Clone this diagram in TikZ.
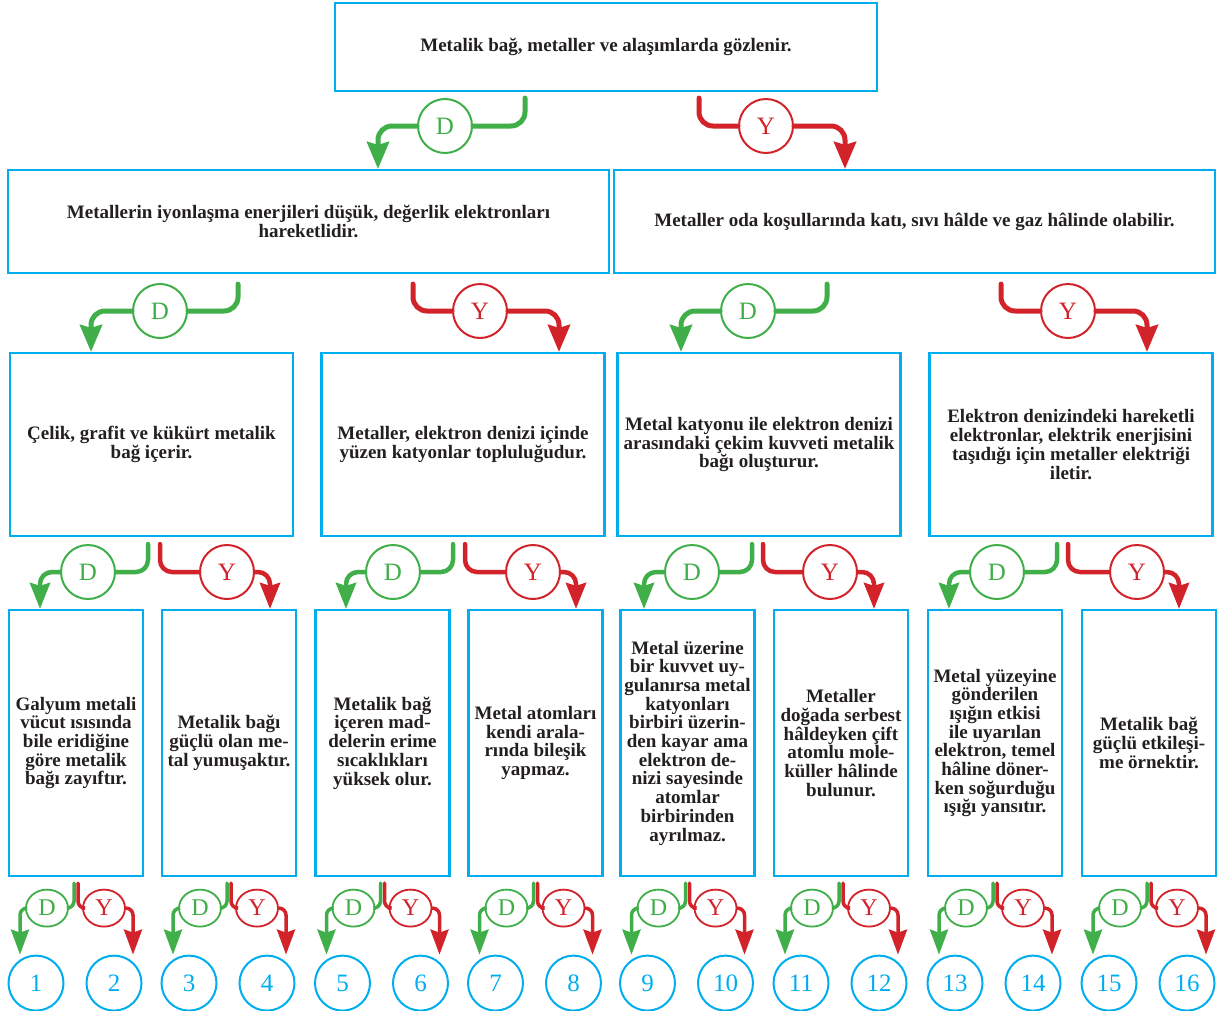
\documentclass[tikz,border=0pt]{standalone}
\usepackage{fontspec}
\setmainfont{Liberation Serif}
\usetikzlibrary{arrows.meta,shapes.geometric,calc}

\definecolor{dgreen}{RGB}{64,174,73}
\definecolor{yred}{RGB}{210,35,42}
\definecolor{boxblue}{RGB}{0,174,239}
\definecolor{txt}{RGB}{35,31,32}

\tikzset{
  box/.style={rectangle,draw=boxblue,line width=2.2pt,inner sep=0pt,align=center,
    text=txt,font=\bfseries\fontsize{19}{18.7}\selectfont},
  leaf/.style={box,minimum width=134pt,minimum height=266pt},
  mid/.style={box,minimum width=283pt,minimum height=183pt},
  ans/.style={circle,draw,fill=white,line width=2pt,minimum size=54pt,inner sep=0pt,
    font=\fontsize{25}{25}\selectfont},
  dans/.style={ans,draw=dgreen,text=dgreen},
  yans/.style={ans,draw=yred,text=yred},
  small/.style={ellipse,draw,fill=white,line width=1.8pt,minimum width=42pt,
    minimum height=37pt,inner sep=0pt,font=\fontsize{24}{24}\selectfont},
  dsmall/.style={small,draw=dgreen,text=dgreen},
  ysmall/.style={small,draw=yred,text=yred},
  num/.style={circle,draw=boxblue,line width=2pt,minimum size=55pt,inner sep=0pt,
    text=boxblue,font=\fontsize{25}{25}\selectfont},
  gline/.style={draw=dgreen,line width=5pt,line cap=round,rounded corners=14pt},
  rline/.style={draw=yred,line width=5pt,line cap=round,rounded corners=14pt},
  thin/.style={line width=4.5pt,rounded corners=12pt},
  low/.style={line width=3.5pt,rounded corners=7pt},
  tip/.style={-{Stealth[length=27pt,width=22pt,inset=3pt]}},
  midtip/.style={-{Stealth[length=26pt,width=20pt,inset=3pt]}},
  lowtip/.style={-{Stealth[length=25pt,width=18pt,inset=3pt]}}
}

\begin{document}
\begin{tikzpicture}[x=1pt,y=-1pt]
\useasboundingbox (0,0) rectangle (1221,1010);

% statements
\node (top) [box,minimum width=542pt,minimum height=88pt] at (606,47)
  {Metalik bağ, metaller ve alaşımlarda gözlenir.};
\node (met1) [box,minimum width=601pt,minimum height=103pt] at (308.5,221.5)
  {Metallerin iyonlaşma enerjileri düşük, değerlik elektronları\\hareketlidir.};
\node (met2) [box,minimum width=601pt,minimum height=103pt] at (914.5,221.5)
  {Metaller oda koşullarında katı, sıvı hâlde ve gaz hâlinde olabilir.};

\node (c1) [mid] at (151.5,444.5) {Çelik, grafit ve kükürt metalik\\bağ içerir.};
\node (c2) [mid] at (463,444.5) {Metaller, elektron denizi içinde\\yüzen katyonlar topluluğudur.};
\node (c3) [mid] at (759,444.5) {Metal katyonu ile elektron denizi\\arasındaki çekim kuvveti metalik\\bağı oluşturur.};
\node (c4) [mid] at (1071,444.5) {Elektron denizindeki hareketli\\elektronlar, elektrik enerjisini\\taşıdığı için metaller elektriği\\iletir.};

\node (p1) [leaf] at (76,743) {Galyum metali\\vücut ısısında\\bile eridiğine\\göre metalik\\bağı zayıftır.};
\node (p2) [leaf] at (229,743) {Metalik bağı\\güçlü olan me-\\tal yumuşaktır.};
\node (p3) [leaf] at (382.5,743) {Metalik bağ\\içeren mad-\\delerin erime\\sıcaklıkları\\yüksek olur.};
\node (p4) [leaf] at (535.5,743) {Metal atomları\\kendi arala-\\rında bileşik\\yapmaz.};
\node (p5) [leaf] at (687.5,743) {Metal üzerine\\bir kuvvet uy-\\gulanırsa metal\\katyonları\\birbiri üzerin-\\den kayar ama\\elektron de-\\nizi sayesinde\\atomlar\\birbirinden\\ayrılmaz.};
\node (p6) [leaf] at (841,743) {Metaller\\doğada serbest\\hâldeyken çift\\atomlu mole-\\küller hâlinde\\bulunur.};
\node (p7) [leaf] at (995,743) {Metal yüzeyine\\gönderilen\\ışığın etkisi\\ile uyarılan\\elektron, temel\\hâline döner-\\ken soğurduğu\\ışığı yansıtır.};
\node (p8) [leaf] at (1149,743) {Metalik bağ\\güçlü etkileşi-\\me örnektir.};

% first answer
\node (d0) [dans] at (445,126) {D};
\node (y0) [yans] at (766,126) {Y};
\draw[gline,shorten <=6pt] (top.south -| 525,0) |- (d0);
\draw[gline,tip] (d0) -| (met1.north -| 378,0);
\draw[rline,shorten <=6pt] (top.south -| 699,0) |- (y0);
\draw[rline,tip] (y0) -| (met2.north -| 845,0);

% second answers
\node (d1) [dans] at (160,311) {D};
\node (y1) [yans] at (480,311) {Y};
\draw[gline,shorten <=10pt] (met1.south -| 238,0) |- (d1);
\draw[gline,tip] (d1) -| (c1.north -| 91,0);
\draw[rline,shorten <=10pt] (met1.south -| 413,0) |- (y1);
\draw[rline,tip] (y1) -| (c2.north -| 559,0);

\node (d2) [dans] at (748,311) {D};
\node (y2) [yans] at (1068,311) {Y};
\draw[gline,shorten <=10pt] (met2.south -| 827,0) |- (d2);
\draw[gline,tip] (d2) -| (c3.north -| 681,0);
\draw[rline,shorten <=10pt] (met2.south -| 1001,0) |- (y2);
\draw[rline,tip] (y2) -| (c4.north -| 1147,0);

% third answers
\foreach \k/\a/\b/\gs/\dx/\gt/\rs/\yx/\rt in {1/1/2/148/88/40/160/227/270,
    2/3/4/453/393/346/465/533/576, 3/5/6/752/692/644/763/830/874,
    4/7/8/1057/997/949/1068/1137/1179}{
  \node (dc\k) [dans] at (\dx,572) {D};
  \node (yc\k) [yans] at (\yx,572) {Y};
  \draw[gline,thin,shorten <=7pt] (c\k.south -| \gs,0) |- (dc\k);
  \draw[gline,thin,midtip] (dc\k) -| (p\a.north -| \gt,0);
  \draw[rline,thin,shorten <=7pt] (c\k.south -| \rs,0) |- (yc\k);
  \draw[rline,thin,midtip] (yc\k) -| (p\b.north -| \rt,0);
}

% last answers
\foreach \i in {1,...,8}{
  \pgfmathtruncatemacro\j{2*\i-1}
  \pgfmathtruncatemacro\m{2*\i}
  \node (n\j) [num] at ($(p\i.south)+(-40,106)$) {\j};
  \node (n\m) [num] at ($(p\i.south)+(38,106)$) {\m};
  \node (dp\i) [dsmall] at ($(p\i.south)+(-29,31)$) {D};
  \node (yp\i) [ysmall] at ($(p\i.south)+(28,31)$) {Y};
  \draw[gline,low,shorten <=6pt] ([xshift=-2pt]p\i.south) |- (dp\i);
  \draw[gline,low,lowtip] (dp\i) -| ([xshift=-16pt]n\j.north);
  \draw[rline,low,shorten <=6pt] ([xshift=2pt]p\i.south) |- (yp\i);
  \draw[rline,low,lowtip] (yp\i) -| ([xshift=19pt]n\m.north);
}
\end{tikzpicture}
\end{document}
